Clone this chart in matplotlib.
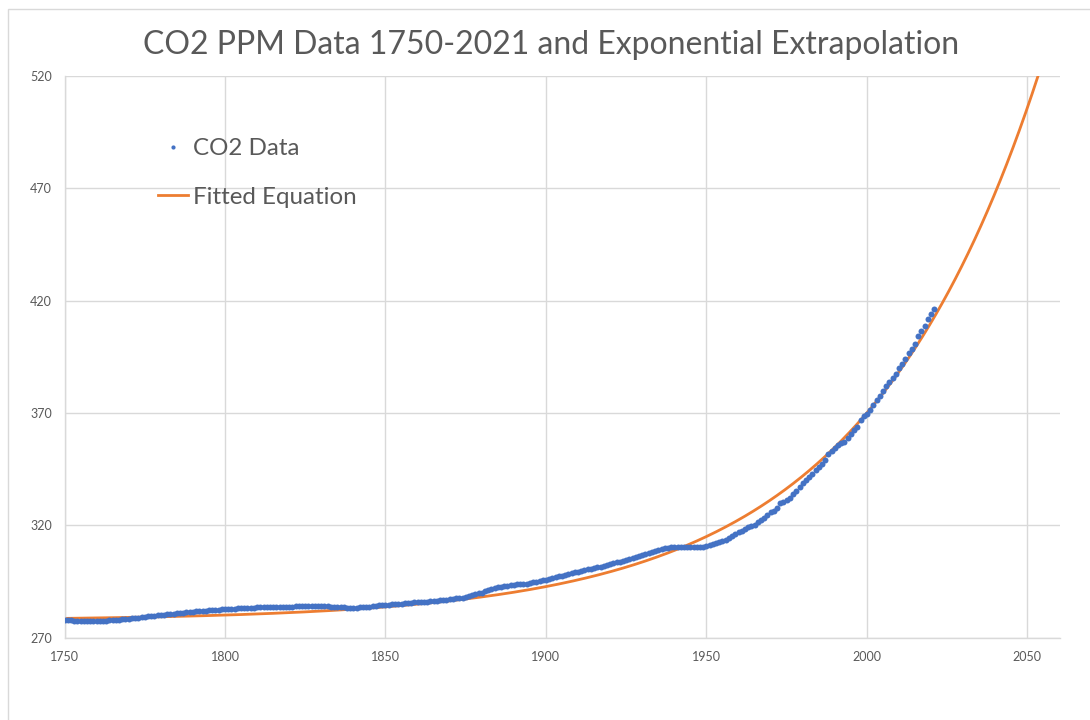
import matplotlib
matplotlib.use("Agg")
import matplotlib.pyplot as plt
import numpy as np
from matplotlib.patches import Rectangle

# ---- data ----
years = list(range(1750, 2022))
co2_ppm = [
    277.6, 277.6, 277.6, 277.5, 277.5, 277.5, 277.5, 277.5, 277.5, 277.5,
    277.5, 277.5, 277.5, 277.5, 277.6, 277.6, 277.7, 277.9, 278.1, 278.2,
    278.4, 278.6, 278.7, 278.9, 279.0, 279.2, 279.4, 279.5, 279.7, 279.9,
    280.0, 280.2, 280.3, 280.5, 280.6, 280.8, 280.9, 281.1, 281.2, 281.4,
    281.5, 281.6, 281.7, 281.8, 281.9, 282.1, 282.2, 282.3, 282.4, 282.6,
    282.7, 282.8, 282.8, 282.9, 283.0, 283.0, 283.1, 283.2, 283.2, 283.3,
    283.4, 283.4, 283.5, 283.5, 283.6, 283.6, 283.6, 283.7, 283.7, 283.8,
    283.8, 283.8, 283.9, 283.9, 283.9, 284.0, 284.0, 284.0, 284.1, 284.1,
    284.1, 284.0, 283.9, 283.8, 283.7, 283.6, 283.5, 283.4, 283.3, 283.2,
    283.2, 283.3, 283.4, 283.6, 283.7, 283.8, 284.0, 284.1, 284.3, 284.4,
    284.5, 284.6, 284.7, 284.9, 285.0, 285.1, 285.2, 285.3, 285.5, 285.6,
    285.7, 285.8, 285.9, 286.0, 286.2, 286.3, 286.4, 286.6, 286.7, 286.9,
    287.0, 287.2, 287.4, 287.6, 287.8, 288.0, 288.4, 288.8, 289.2, 289.6,
    290.0, 290.5, 291.0, 291.4, 291.9, 292.3, 292.6, 292.9, 293.1, 293.3,
    293.5, 293.6, 293.7, 293.8, 294.0, 294.2, 294.5, 294.8, 295.2, 295.5,
    295.8, 296.1, 296.5, 296.8, 297.2, 297.5, 297.9, 298.2, 298.6, 299.0,
    299.3, 299.6, 299.9, 300.3, 300.6, 300.9, 301.3, 301.6, 301.9, 302.3,
    302.6, 303.0, 303.4, 303.8, 304.2, 304.6, 305.0, 305.5, 305.9, 306.4,
    306.8, 307.2, 307.7, 308.1, 308.6, 309.0, 309.4, 309.7, 310.0, 310.2,
    310.4, 310.5, 310.5, 310.4, 310.3, 310.1, 310.1, 310.2, 310.3, 310.5,
    310.8, 311.2, 311.6, 312.0, 312.5, 313.0, 313.6, 314.3, 315.3, 316.0,
    316.9, 317.6, 318.5, 319.0, 319.6, 320.0, 321.4, 322.2, 323.0, 324.6,
    325.7, 326.3, 327.5, 329.7, 330.2, 331.1, 332.0, 333.8, 335.4, 336.8,
    338.7, 340.1, 341.4, 343.0, 344.6, 346.0, 347.4, 349.2, 351.6, 353.1,
    354.4, 355.6, 356.5, 357.1, 358.8, 360.8, 362.6, 363.7, 366.7, 368.4,
    369.7, 371.3, 373.4, 375.9, 377.7, 379.8, 381.9, 383.8, 385.6, 387.4,
    389.9, 391.6, 393.9, 396.5, 398.6, 400.8, 404.2, 406.5, 408.7, 411.7,
    414.2, 416.4,
]

# fitted equation: ppm = FIT_BASE + FIT_SCALE * exp(FIT_RATE * (year - FIT_REF_YEAR))
FIT_BASE = 277.5
FIT_SCALE = 92.5
FIT_RATE = 0.01808
FIT_REF_YEAR = 2000
fit_years = np.arange(1750, 2060.5, 0.5)
fit_ppm = FIT_BASE + FIT_SCALE * np.exp(FIT_RATE * (fit_years - FIT_REF_YEAR))

x_ticks = [1750, 1800, 1850, 1900, 1950, 2000, 2050]
y_ticks = [270, 320, 370, 420, 470, 520]
title = "CO2 PPM Data 1750-2021 and Exponential Extrapolation"

# ---- style ----
FONT = ["Lato", "DejaVu Sans"]
plt.rcParams["font.family"] = FONT
TXT = "#595959"
GRID = "#d9d9d9"
BLUE = "#4472C4"
ORANGE = "#ED7D31"

W, H = 1090, 720
fig = plt.figure(figsize=(W / 100, H / 100), dpi=100)
fig.patch.set_facecolor("white")

# chart-area border (extends beyond right/bottom of the image)
fig.patches.append(Rectangle((7.5 / W, -0.1), 1.2, 1.1 - 9 / H,
                             transform=fig.transFigure, fill=False,
                             edgecolor=GRID, linewidth=1.0))

ax = fig.add_axes([64.5 / W, 1 - 637.5 / H, (1059.5 - 64.5) / W, (637.5 - 76) / H])
ax.set_xlim(1750, 2060)
ax.set_ylim(270, 520)
ax.set_xticks(x_ticks)
ax.set_yticks(y_ticks)
ax.grid(True, color=GRID, linewidth=1.0)
ax.set_axisbelow(True)
for s in ["top", "right"]:
    ax.spines[s].set_visible(False)
for s in ["left", "bottom"]:
    ax.spines[s].set_color(GRID)
    ax.spines[s].set_linewidth(1.0)
ax.tick_params(length=0, labelsize=9, labelcolor=TXT)
ax.tick_params(axis="x", pad=10)
ax.tick_params(axis="y", pad=9)

line_fit, = ax.plot(fit_years, fit_ppm, color=ORANGE, linewidth=2.0,
                    label="Fitted Equation", zorder=2)
dots, = ax.plot(years, co2_ppm, linestyle="none", marker="o", markersize=4.3,
                markeredgewidth=0, color=BLUE, label="CO2 Data", zorder=3)

leg = ax.legend(handles=[dots, line_fit], loc="upper left",
                bbox_to_anchor=(158 / W, 1 - 138 / H), bbox_transform=fig.transFigure,
                frameon=False, fontsize=17.4, handlelength=1.25, handletextpad=0.2,
                labelspacing=1.15, borderpad=0, borderaxespad=0, markerscale=0.7)
for t in leg.get_texts():
    t.set_color(TXT)

fig.text(551 / W, 1 - 54 / H, title, ha="center", va="baseline",
         fontsize=23, color=TXT)

fig.savefig("out.png", dpi=100)
